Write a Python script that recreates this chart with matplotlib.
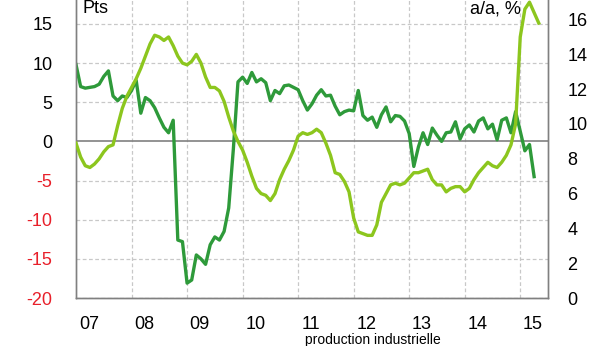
import numpy as np
import matplotlib.pyplot as plt

plt.rcParams['font.family'] = ['Liberation Sans', 'DejaVu Sans']

# dark green series, Pts (left axis), monthly from Jan 2007
climat = [9.8, 7.0, 6.8, 6.9, 7.0, 7.3, 8.3, 9.0, 5.8, 5.2,
          5.8, 5.6, 6.5, 7.8, 3.6, 5.6, 5.2, 4.3, 3.0, 1.8,
          1.1, 2.7, -12.6, -12.8, -18.1, -17.7, -14.5, -15.0, -15.7, -13.2,
          -12.2, -12.6, -11.5, -8.5, -1.0, 7.6, 8.2, 7.4, 8.8, 7.6,
          8.0, 7.5, 5.2, 6.5, 6.1, 7.1, 7.2, 6.9, 6.6, 5.2,
          4.0, 4.8, 5.9, 6.6, 5.8, 5.9, 4.5, 3.4, 3.8, 4.0,
          3.9, 6.5, 3.3, 2.7, 3.1, 1.8, 3.4, 4.4, 2.5, 3.3,
          3.2, 2.6, 1.0, -3.2, -0.7, 1.1, -0.4, 1.7, 0.8, 0.0,
          1.1, 1.2, 2.5, 0.3, 1.6, 2.1, 1.2, 2.6, 3.0, 1.6,
          2.2, 0.2, 2.7, 3.0, 1.1, 3.8, 1.3, -1.2, -0.4, -4.5]

# light green series, a/a % (right axis), monthly from Jan 2007
prod = [8.9, 8.1, 7.6, 7.5, 7.7, 8.0, 8.4, 8.7, 8.8, 9.9,
        10.9, 11.6, 12.1, 12.6, 13.2, 13.9, 14.6, 15.1, 15.0, 14.8,
        15.0, 14.5, 13.9, 13.5, 13.4, 13.6, 14.0, 13.5, 12.7, 12.1,
        12.1, 11.9, 11.3, 10.4, 9.6, 9.0, 8.5, 7.8, 7.0, 6.3,
        6.0, 5.9, 5.6, 6.0, 6.8, 7.4, 7.9, 8.5, 9.3, 9.5,
        9.4, 9.5, 9.7, 9.5, 8.9, 8.2, 7.2, 7.1, 6.7, 6.1,
        4.6, 3.8, 3.7, 3.6, 3.6, 4.2, 5.5, 6.0, 6.5, 6.6,
        6.5, 6.6, 6.9, 7.2, 7.2, 7.3, 7.4, 6.8, 6.5, 6.5,
        6.1, 6.3, 6.4, 6.4, 6.1, 6.3, 6.8, 7.2, 7.5, 7.8,
        7.6, 7.5, 7.8, 8.2, 8.8, 10.0, 15.0, 16.6, 17.0, 16.4,
        15.8]

years = [2007, 2008, 2009, 2010, 2011, 2012, 2013, 2014, 2015]
year_labels = ['07', '08', '09', '10', '11', '12', '13', '14', '15']
left_ticks = [-20, -15, -10, -5, 0, 5, 10, 15]
right_ticks = [0, 2, 4, 6, 8, 10, 12, 14, 16]

dark = '#2e9a3a'
light = '#8cc61e'
red = '#e8202a'

t1 = 2007 + np.arange(len(climat)) / 12.0
t2 = 2007 + np.arange(len(prod)) / 12.0

W, H = 616, 346
fig = plt.figure(figsize=(W / 100, H / 100), dpi=100)
ax = fig.add_axes([0.1234, 0.1387, 0.7662, 0.9053])
ax2 = ax.twinx()

# grid
for y in left_ticks:
    if y == 0:
        ax.axhline(0, color='#808080', lw=1.2, zorder=1)
    else:
        ax.axhline(y, color='#c8c8c8', lw=0.9, ls=(0, (3, 2)), zorder=0)
for yr in years[1:]:
    ax.axvline(yr, color='#c8c8c8', lw=0.9, ls=(0, (3, 2)), zorder=0)

ax.plot(t1, climat, color=dark, lw=2.4, zorder=3)
ax2.plot(t2, prod, color=light, lw=2.4, zorder=3)

ax.set_xlim(2007, 2015.5)
ax.set_ylim(-20, 20)
ax2.set_ylim(0, 18)

ax.set_yticks(left_ticks)
ax.set_yticklabels([str(v) for v in left_ticks], fontsize=13)
for lab, v in zip(ax.get_yticklabels(), left_ticks):
    lab.set_color(red if v < 0 else 'black')
ax.tick_params(axis='y', length=0, pad=17)

ax2.set_yticks(right_ticks)
ax2.set_yticklabels([str(v) for v in right_ticks], fontsize=13)
ax2.tick_params(axis='y', length=0, pad=14)

ax.set_xticks([y + 0.23 for y in years])
ax.set_xticklabels(year_labels, fontsize=13)
ax.tick_params(axis='x', length=0, pad=13)

for a in (ax, ax2):
    for s in a.spines.values():
        s.set_color('#808080')
        s.set_linewidth(1.0)

fig.text(82 / W, 1 - 13 / H, 'Pts', fontsize=13, ha='left', va='baseline')
fig.text(521 / W, 1 - 13 / H, 'a/a, %', fontsize=13, ha='right', va='baseline')

fig.text(305 / W, 1 - 333 / H, 'production industrielle', fontsize=10,
         ha='left', va='top')

fig.savefig('out.png', dpi=100)
